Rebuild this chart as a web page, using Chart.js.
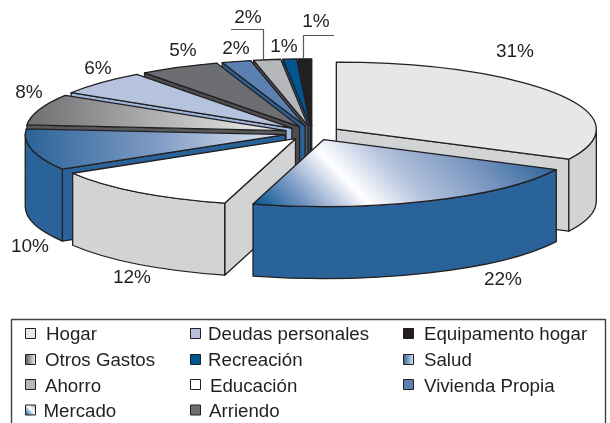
<!DOCTYPE html>
<html><head><meta charset="utf-8">
<style>html,body{margin:0;padding:0;background:#fff;overflow:hidden}canvas{display:block}</style>
<script src="https://cdn.jsdelivr.net/npm/chart.js@4"></script>
</head><body>
<canvas id="c" width="610" height="423"></canvas>
<script>
const categories = ["Hogar","Mercado","Educación","Salud","Otros Gastos","Deudas personales","Arriendo","Vivienda Propia","Ahorro","Recreación","Equipamento hogar"];
const values = [31,22,12,10,8,6,5,2,2,1,1];
const topColors = ["#E6E7E8","#2A6399","#FFFFFF","#8FA8CC","#A5A6A8","#B5C3DE","#6D6E71","#5B80B2","#B5B7BA","#00568F","#231F20"];
const sideColors = ["#D1D3D4","#2A6399","#D1D3D4","#2A6399","#58595B","#9DB4DC","#4D4D4F","#2A6399","#58595B","#2A6399","#231F20"];
const labelAnchors = [[515,52],[503,280],[132,278],[30,247],[29,93],[98,69],[183,51],[236,49],[248,18],[284,47],[316,22]];
const legendOrder = ["Hogar","Deudas personales","Equipamento hogar","Otros Gastos","Recreación","Salud","Ahorro","Educación","Vivienda Propia","Mercado","Arriendo"];

const LINE="#231F20", SQUASH=67/260, DEPTH=72, EXPLODE=28;
const rad=d=>d*Math.PI/180;
// perspective of the original drawing: angle on the tilted disc vs. angle in the data
function warp(a){
  const t=(a+Math.PI/2)*180/Math.PI;
  const d=Math.min(t*.05,5-Math.max(0,Math.min(2,(t-270)/15)),(360-t)*.16);
  return rad(t+d-90);
}
function stops(g,list){list.forEach(([p,c])=>g.addColorStop(p,c));return g;}
function gradFor(ctx,name,x,R){
  if(name==="Mercado")return stops(ctx.createLinearGradient(284,236,461,68),[[0,"#00568F"],[.17,"#7F9CC6"],[.344,"#FFFFFF"],[.52,"#B5C3DE"],[.8,"#6C8DB9"],[1,"#2A6399"]]);
  if(name==="Salud")return stops(ctx.createLinearGradient(x-R,0,x,0),[[0,"#2A6399"],[.5,"#7F9BC4"],[1,"#E3E9F3"]]);
  if(name==="Otros Gastos")return stops(ctx.createLinearGradient(x-R,0,x,0),[[0,"#6D6E70"],[1,"#F2F2F2"]]);
  return null;
}
function swatchFill(ctx,name,x,y,s){
  if(name==="Mercado")return stops(ctx.createLinearGradient(x,y+s,x+s,y),[[0,"#00568F"],[.55,"#FFFFFF"],[1,"#9DB4DC"]]);
  if(name==="Salud")return stops(ctx.createLinearGradient(x,0,x+s,0),[[0,"#2A6399"],[1,"#DDE4F0"]]);
  if(name==="Otros Gastos")return stops(ctx.createLinearGradient(x,0,x+s,0),[[0,"#58595B"],[1,"#F2F2F2"]]);
  return topColors[categories.indexOf(name)];
}
const pie3d={
  id:"pie3d",
  afterDatasetUpdate(chart,args){
    args.meta.data.forEach(a=>{a.startAngle=warp(a.startAngle);a.endAngle=warp(a.endAngle);});
  },
  beforeDatasetDraw(chart,args){
    const ctx=chart.ctx, arcs=args.meta.data.map((a,i)=>({a,i}));
    arcs.sort((p,q)=>Math.sin((p.a.startAngle+p.a.endAngle)/2)-Math.sin((q.a.startAngle+q.a.endAngle)/2));
    ctx.lineJoin="round";ctx.lineWidth=1.3;ctx.strokeStyle=LINE;
    arcs.forEach(({a,i})=>{
      const R=a.outerRadius,s=a.startAngle,e=a.endAngle,m=(s+e)/2;
      const cx=a.x+Math.cos(m)*EXPLODE, cy=a.y+Math.sin(m)*EXPLODE*SQUASH, Ry=R*SQUASH;
      ctx.fillStyle=sideColors[i];
      // radial walls that face the viewer
      const walls=[];
      if(Math.cos(s)<-1e-6)walls.push(s);
      if(Math.cos(e)>1e-6)walls.push(e);
      walls.forEach(t=>{
        const px=cx+R*Math.cos(t),py=cy+Ry*Math.sin(t);
        ctx.beginPath();ctx.moveTo(cx,cy);ctx.lineTo(px,py);ctx.lineTo(px,py+DEPTH);ctx.lineTo(cx,cy+DEPTH);ctx.closePath();ctx.fill();ctx.stroke();
      });
      // rim wall (front half of the disc only)
      const f0=Math.max(s,0),f1=Math.min(e,Math.PI);
      if(f1>f0){
        ctx.beginPath();ctx.ellipse(cx,cy,R,Ry,0,f0,f1);ctx.ellipse(cx,cy+DEPTH,R,Ry,0,f1,f0,true);ctx.closePath();ctx.fill();ctx.stroke();
      }
      // top face: the library's own arc, on the tilted plane
      ctx.save();
      ctx.translate(cx,cy);ctx.scale(1,SQUASH);ctx.translate(-a.x,-a.y);
      a.draw(ctx);
      ctx.restore();
      ctx.beginPath();ctx.moveTo(cx,cy);ctx.ellipse(cx,cy,R,Ry,0,s,e);ctx.closePath();
      const g=gradFor(ctx,categories[i],cx,R);
      if(g){ctx.fillStyle=g;ctx.fill();}
      ctx.stroke();
    });
    return false;
  },
  afterDraw(chart){
    const ctx=chart.ctx;
    ctx.save();
    ctx.fillStyle="#231F20";ctx.font='19px "Liberation Sans"';ctx.textAlign="center";ctx.textBaseline="middle";
    values.forEach((v,i)=>ctx.fillText(v+"%",labelAnchors[i][0],labelAnchors[i][1]));
    ctx.strokeStyle="#58595B";ctx.lineWidth=1.2;
    ctx.beginPath();ctx.moveTo(231,29.5);ctx.lineTo(263.5,29.5);ctx.lineTo(263.5,59);
    ctx.moveTo(303.5,59);ctx.lineTo(303.5,35.5);ctx.lineTo(334,35.5);ctx.stroke();
    // legend
    ctx.strokeStyle="#414042";ctx.lineWidth=1.4;
    ctx.beginPath();ctx.moveTo(11.5,424);ctx.lineTo(11.5,319.5);ctx.lineTo(605.5,319.5);ctx.lineTo(605.5,424);ctx.stroke();
    const colSw=[25.5,190.5,403.5],colTx=[[46,208,424],[45,208,424],[45,210,424],[43.5,209,424]],rowY=[335,361,387,412],swY=[328.5,354.5,379.5,405];
    ctx.textAlign="left";ctx.font='18.7px "Liberation Sans"';
    legendOrder.forEach((n,k)=>{
      const c=k%3,r=Math.floor(k/3),x=colSw[c],y=swY[r];
      ctx.fillStyle=swatchFill(ctx,n,x,y,10);ctx.fillRect(x,y,10,10);
      ctx.strokeStyle=LINE;ctx.lineWidth=1;ctx.strokeRect(x,y,10,10);
      ctx.fillStyle="#231F20";ctx.fillText(n,colTx[r][c],rowY[r]);
    });
    ctx.restore();
  }
};
new Chart(document.getElementById("c"),{
  type:"pie",
  data:{labels:categories,datasets:[{data:values,backgroundColor:topColors,borderWidth:0}]},
  options:{responsive:false,animation:false,radius:260,
    layout:{padding:{left:15,right:0,top:0,bottom:157}},
    plugins:{legend:{display:false},tooltip:{enabled:false}}},
  plugins:[pie3d]
});
</script>
</body></html>
